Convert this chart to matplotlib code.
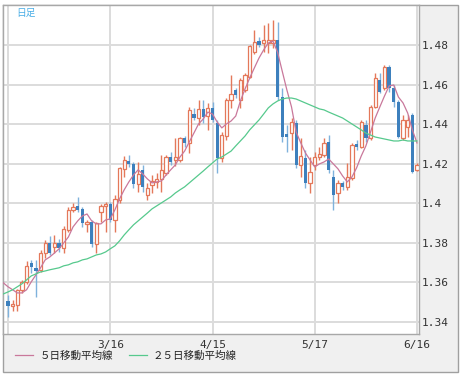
import numpy as np
import matplotlib
matplotlib.use('Agg')
import matplotlib.pyplot as plt
from matplotlib.patches import Rectangle

plt.rcParams['font.family'] = ['Noto Sans CJK JP', 'DejaVu Sans']

# daily candles, 2/14 .. 6/16
open_ = [1.3507, 1.3482, 1.3487, 1.3563, 1.3603, 1.3699, 1.3674, 1.3664, 1.3749, 1.3800,
         1.3780, 1.3800, 1.3775, 1.3866, 1.3967, 1.3987, 1.3972, 1.3896, 1.3906, 1.3795,
         1.3956, 1.3987, 1.3997, 1.3916, 1.4017, 1.4174, 1.4214, 1.4199, 1.4098, 1.4169,
         1.4042, 1.4093, 1.4108, 1.4123, 1.4153, 1.4234, 1.4219, 1.4219, 1.4330, 1.4305,
         1.4451, 1.4431, 1.4477, 1.4441, 1.4482, 1.4406, 1.4229, 1.4340, 1.4522, 1.4573,
         1.4522, 1.4573, 1.4638, 1.4764, 1.4820, 1.4810, 1.4810, 1.4810, 1.4825, 1.4537,
         1.4350, 1.4355, 1.4406, 1.4194, 1.4229, 1.4103, 1.4194, 1.4234, 1.4244, 1.4310,
         1.4133, 1.4052, 1.4103, 1.4083, 1.4128, 1.4300, 1.4285, 1.4396, 1.4330, 1.4487,
         1.4623, 1.4583, 1.4689, 1.4583, 1.4512, 1.4330, 1.4386, 1.4446, 1.4169]
close = [1.3482, 1.3492, 1.3563, 1.3603, 1.3684, 1.3679, 1.3658, 1.3749, 1.3800, 1.3749,
         1.3800, 1.3775, 1.3871, 1.3967, 1.3982, 1.3967, 1.3901, 1.3906, 1.3795, 1.3901,
         1.3987, 1.3997, 1.3916, 1.4022, 1.4179, 1.4219, 1.4199, 1.4098, 1.4148, 1.4083,
         1.4078, 1.4113, 1.4123, 1.4169, 1.4234, 1.4209, 1.4234, 1.4330, 1.4305, 1.4472,
         1.4431, 1.4477, 1.4436, 1.4482, 1.4421, 1.4229, 1.4345, 1.4522, 1.4552, 1.4547,
         1.4623, 1.4648, 1.4795, 1.4815, 1.4800, 1.4825, 1.4825, 1.4825, 1.4537, 1.4335,
         1.4335, 1.4411, 1.4194, 1.4239, 1.4103, 1.4158, 1.4234, 1.4249, 1.4305, 1.4169,
         1.4042, 1.4103, 1.4083, 1.4133, 1.4295, 1.4285, 1.4411, 1.4330, 1.4487, 1.4633,
         1.4562, 1.4689, 1.4583, 1.4512, 1.4335, 1.4421, 1.4421, 1.4158, 1.4194]
high = [1.3537, 1.3512, 1.3568, 1.3613, 1.3709, 1.3714, 1.3714, 1.3765, 1.3815, 1.3835,
        1.3840, 1.3820, 1.3886, 1.3982, 1.4002, 1.4032, 1.3982, 1.3916, 1.3916, 1.3906,
        1.3997, 1.4007, 1.4007, 1.4042, 1.4184, 1.4239, 1.4244, 1.4209, 1.4209, 1.4194,
        1.4103, 1.4143, 1.4153, 1.4244, 1.4244, 1.4259, 1.4330, 1.4335, 1.4340, 1.4487,
        1.4482, 1.4522, 1.4522, 1.4507, 1.4512, 1.4421, 1.4360, 1.4532, 1.4648, 1.4583,
        1.4633, 1.4658, 1.4800, 1.4876, 1.4840, 1.4901, 1.4911, 1.4926, 1.4916, 1.4583,
        1.4396, 1.4431, 1.4421, 1.4330, 1.4270, 1.4234, 1.4259, 1.4285, 1.4330, 1.4345,
        1.4169, 1.4118, 1.4113, 1.4204, 1.4305, 1.4320, 1.4421, 1.4421, 1.4497, 1.4658,
        1.4658, 1.4699, 1.4699, 1.4598, 1.4522, 1.4446, 1.4446, 1.4456, 1.4204]
low = [1.3426, 1.3456, 1.3456, 1.3547, 1.3593, 1.3648, 1.3527, 1.3653, 1.3724, 1.3739,
       1.3749, 1.3754, 1.3749, 1.3855, 1.3956, 1.3956, 1.3881, 1.3855, 1.3780, 1.3749,
       1.3906, 1.3855, 1.3906, 1.3855, 1.4002, 1.4133, 1.4184, 1.4078, 1.4057, 1.4057,
       1.4017, 1.4052, 1.4078, 1.4057, 1.4143, 1.4194, 1.4189, 1.4209, 1.4285, 1.4254,
       1.4421, 1.4396, 1.4406, 1.4371, 1.4411, 1.4153, 1.4209, 1.4320, 1.4482, 1.4532,
       1.4482, 1.4562, 1.4633, 1.4754, 1.4790, 1.4764, 1.4759, 1.4785, 1.4522, 1.4310,
       1.4259, 1.4270, 1.4179, 1.4133, 1.4078, 1.4052, 1.4169, 1.4219, 1.4234, 1.4153,
       1.3967, 1.4002, 1.4068, 1.4068, 1.4118, 1.4270, 1.4280, 1.4310, 1.4320, 1.4482,
       1.4557, 1.4573, 1.4562, 1.4487, 1.4330, 1.4320, 1.4335, 1.4153, 1.4163]

# moving averages, one point before the first candle
ma5 = [1.3598, 1.3578, 1.3563, 1.3547, 1.3547, 1.3563, 1.3603, 1.3638, 1.3674, 1.3714,
       1.3729, 1.3749, 1.3770, 1.3800, 1.3830, 1.3881, 1.3911, 1.3936, 1.3946, 1.3911,
       1.3896, 1.3896, 1.3916, 1.3921, 1.3967, 1.4022, 1.4068, 1.4108, 1.4143, 1.4169,
       1.4148, 1.4123, 1.4103, 1.4108, 1.4113, 1.4143, 1.4169, 1.4194, 1.4234, 1.4264,
       1.4310, 1.4355, 1.4401, 1.4426, 1.4461, 1.4451, 1.4411, 1.4381, 1.4401, 1.4416,
       1.4441, 1.4517, 1.4578, 1.4633, 1.4684, 1.4734, 1.4775, 1.4810, 1.4820, 1.4764,
       1.4668, 1.4573, 1.4487, 1.4360, 1.4305, 1.4254, 1.4219, 1.4184, 1.4199, 1.4209,
       1.4224, 1.4199, 1.4174, 1.4138, 1.4108, 1.4133, 1.4179, 1.4239, 1.4290, 1.4360,
       1.4431, 1.4487, 1.4542, 1.4593, 1.4598, 1.4537, 1.4507, 1.4456, 1.4371, 1.4305]
ma25 = [1.3542, 1.3552, 1.3563, 1.3578, 1.3593, 1.3613, 1.3633, 1.3643, 1.3653, 1.3658,
        1.3664, 1.3669, 1.3674, 1.3684, 1.3689, 1.3699, 1.3704, 1.3714, 1.3719, 1.3729,
        1.3739, 1.3744, 1.3754, 1.3770, 1.3785, 1.3810, 1.3840, 1.3866, 1.3891, 1.3911,
        1.3931, 1.3951, 1.3972, 1.3987, 1.4002, 1.4017, 1.4032, 1.4052, 1.4068, 1.4083,
        1.4103, 1.4123, 1.4143, 1.4163, 1.4184, 1.4204, 1.4224, 1.4234, 1.4249, 1.4264,
        1.4290, 1.4315, 1.4340, 1.4371, 1.4396, 1.4421, 1.4451, 1.4482, 1.4502, 1.4517,
        1.4527, 1.4532, 1.4532, 1.4527, 1.4517, 1.4507, 1.4497, 1.4487, 1.4477, 1.4472,
        1.4461, 1.4451, 1.4441, 1.4431, 1.4416, 1.4401, 1.4386, 1.4371, 1.4355, 1.4345,
        1.4335, 1.4330, 1.4325, 1.4320, 1.4315, 1.4315, 1.4320, 1.4315, 1.4315, 1.4315]

tick_pos = [0, 22, 44, 66, 88]
tick_labels = ['', '3/16', '4/15', '5/17', '6/16']
y_ticks = [1.34, 1.36, 1.38, 1.40, 1.42, 1.44, 1.46, 1.48]
y_labels = ['1.34', '1.36', '1.38', '1.4', '1.42', '1.44', '1.46', '1.48']

UP = '#e4785a'
DOWN = '#3d80bd'
DOWN_WICK = '#7fb2dc'

W, H = 464, 376
fig = plt.figure(figsize=(W / 100, H / 100), dpi=100)
fig.patches.append(Rectangle((3 / W, 1 - 372 / H), 455 / W, 367 / H, transform=fig.transFigure,
                             facecolor='#f0f0f0', edgecolor='#a0a0a0', lw=1, zorder=-5))
ax = fig.add_axes([3 / W, 1 - 334 / H, 416 / W, 329 / H])
ax.set_zorder(1)

o = np.array(open_)
c = np.array(close)
hi = np.array(high)
lo = np.array(low)
x = np.arange(len(c))
up = c >= o

ax.vlines(x[up], lo[up], hi[up], color=UP, lw=1, zorder=2)
ax.vlines(x[~up], lo[~up], hi[~up], color=DOWN_WICK, lw=1, zorder=2)
bot = np.minimum(o, c)
hgt = np.maximum(np.abs(c - o), 0.0004)
ax.bar(x[up], hgt[up], bottom=bot[up], width=0.7, facecolor='white', edgecolor=UP, lw=0.9, zorder=3)
ax.bar(x[~up], hgt[~up], bottom=bot[~up], width=0.7, color=DOWN, lw=0, zorder=3)

ma_x = np.arange(-1, len(c))
ax.plot(ma_x, ma5, color='#c9789b', lw=0.9, zorder=4, label='５日移動平均線')
ax.plot(ma_x, ma25, color='#56c98d', lw=0.9, zorder=4, label='２５日移動平均線')

ax.set_xlim(-1.076, 88.43)
ax.set_ylim(1.33394, 1.50022)
ax.set_xticks(tick_pos)
ax.set_xticklabels(tick_labels)
ax.set_yticks(y_ticks)
ax.set_yticklabels(y_labels)
ax.yaxis.tick_right()
ax.tick_params(length=0, labelsize=8, colors='#333333')
ax.tick_params(axis='y', pad=2)
ax.tick_params(axis='x', pad=4)
for lab in ax.get_xticklabels() + ax.get_yticklabels():
    lab.set_fontfamily('DejaVu Sans Mono')
ax.grid(color='#dcdcdc', lw=1.4, zorder=0)
ax.set_axisbelow(True)
for s in ax.spines.values():
    s.set_color('#a8a8a8')
    s.set_linewidth(1)

fig.text(16 / W, 1 - 13 / H, '日足', color='#4aaee6', fontsize=7, va='center', zorder=5)

leg = ax.legend(loc='center left', bbox_to_anchor=(15 / W, 1 - 356 / H), bbox_transform=fig.transFigure,
                ncol=2, frameon=False, fontsize=7.6, handlelength=1.7, handletextpad=0.6,
                columnspacing=1.5, borderpad=0, borderaxespad=0)
for t in leg.get_texts():
    t.set_color('#222222')

fig.savefig('out.png', dpi=100, facecolor='white')
